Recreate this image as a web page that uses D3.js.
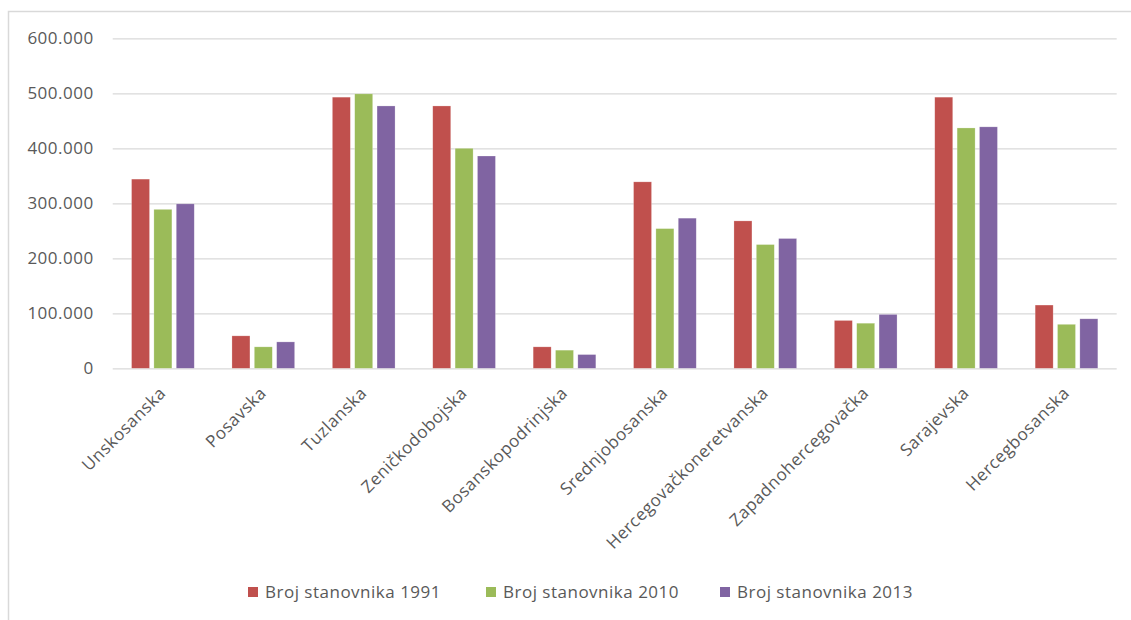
<!DOCTYPE html>
<html><head><meta charset="utf-8">
<script src="https://cdn.jsdelivr.net/npm/d3@7"></script>
<style>body{margin:0;background:#fff}svg{display:block}text{font-family:"Open Sans",sans-serif;fill:#595959;letter-spacing:0.5px}</style>
</head><body><svg id="c" width="1131" height="620"></svg>
<script>
const categories = ["Unskosanska","Posavska","Tuzlanska","Zeničkodobojska","Bosanskopodrinjska","Srednjobosanska","Hercegovačkoneretvanska","Zapadnohercegovačka","Sarajevska","Hercegbosanska"];
const seriesNames = ["Broj stanovnika 1991","Broj stanovnika 2010","Broj stanovnika 2013"];
const pop1991 = [344000,59000,493000,477000,39000,339000,268000,87000,493000,115000];
const pop2010 = [289000,39000,499000,400000,33000,254000,225000,82000,437000,80000];
const pop2013 = [299000,48000,477000,386000,25000,273000,236000,98000,439000,90000];
const yTicks = [0,100000,200000,300000,400000,500000,600000];
const colors = ["#C0504D","#9BBB59","#8064A2"];
const series = [pop1991,pop2010,pop2013];

const svg = d3.select("#c");
const L = 112.7, R = 1116.7, T = 38.3, B = 368.3;
svg.append("rect").attr("x",8.5).attr("y",11.5).attr("width",1140).attr("height",640).attr("fill","none").attr("stroke","#d9d9d9").attr("stroke-width",1.5);

const y = d3.scaleLinear().domain([0,600000]).range([B,T]);
const x0 = d3.scaleBand().domain(categories).range([L,R]).paddingInner(0.3755).paddingOuter(0.3755/2);
const x1 = d3.scaleBand().domain(d3.range(3)).range([0,x0.bandwidth()]).paddingInner(0.195);

const fmt = v => v===0 ? "0" : d3.format(",")(v).replace(/,/g,".");
const yAxis = d3.axisLeft(y).tickValues(yTicks).tickSize(-(R-L)).tickFormat(fmt).tickPadding(19);
const gy = svg.append("g").attr("transform",`translate(${L},0)`).call(yAxis);
gy.select(".domain").remove();
gy.selectAll(".tick line").attr("stroke","#d9d9d9").attr("stroke-width",1.3);
gy.selectAll(".tick text").attr("font-size",17).attr("fill","#595959");

const g = svg.append("g");
categories.forEach((c,i)=>{
  series.forEach((s,k)=>{
    g.append("rect").attr("x",x0(c)+x1(k)).attr("y",y(s[i])).attr("width",x1.bandwidth()).attr("height",y(0)-y(s[i])).attr("fill",colors[k]).attr("stroke","#fff").attr("stroke-opacity",0.4).attr("stroke-width",0.6);
  });
});

const xAxis = d3.axisBottom(x0).tickSize(0).tickPadding(0);
const gx = svg.append("g").attr("transform",`translate(0,${B})`).call(xAxis);
gx.select(".domain").remove();
gx.selectAll(".tick text").attr("font-size",17).attr("fill","#595959")
  .attr("text-anchor","end").attr("dy",null).attr("y",0)
  .attr("transform","translate(4,26) rotate(-45)");

const lg = svg.append("g");
const lx = [248,486,720];
seriesNames.forEach((n,k)=>{
  lg.append("rect").attr("x",lx[k]).attr("y",587).attr("width",10).attr("height",10).attr("fill",colors[k]);
  lg.append("text").attr("x",lx[k]+17).attr("y",598).attr("font-size",17).text(n);
});
</script></body></html>
